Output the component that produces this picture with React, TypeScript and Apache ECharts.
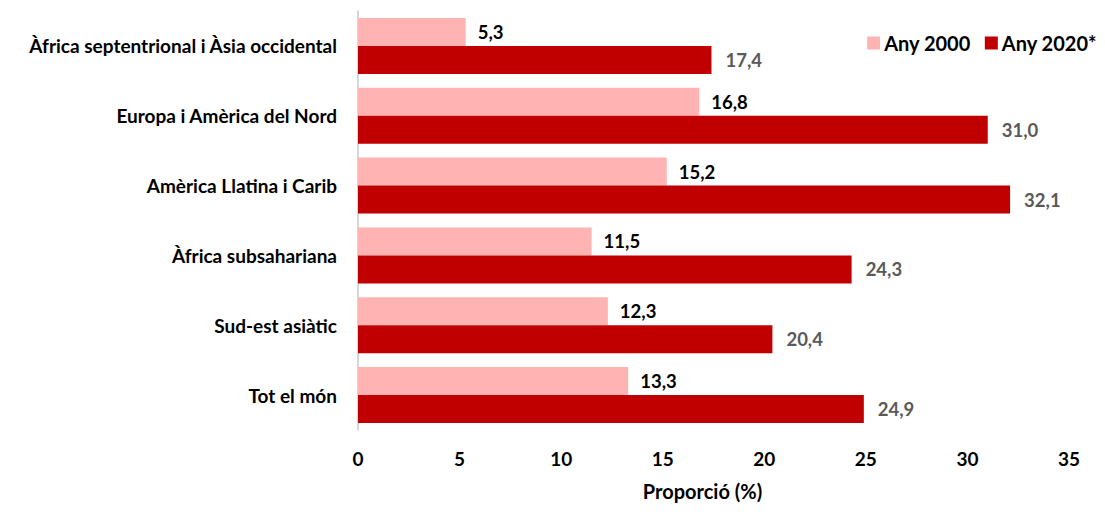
import React, { useEffect, useRef } from "react";
import * as echarts from "echarts";

const categories = [
  "Àfrica septentrional i Àsia occidental",
  "Europa i Amèrica del Nord",
  "Amèrica Llatina i Carib",
  "Àfrica subsahariana",
  "Sud-est asiàtic",
  "Tot el món",
];
const series2000 = [5.3, 16.8, 15.2, 11.5, 12.3, 13.3];
const series2020 = [17.4, 31.0, 32.1, 24.3, 20.4, 24.9];
const seriesNames = ["Any 2000", "Any 2020*"];
const axisTitle = "Proporció (%)";

const FONT = "Lato, 'Open Sans', sans-serif";
const fmt = (v: number) => v.toFixed(1).replace(".", ",");

export default function App() {
  const ref = useRef<HTMLDivElement>(null);
  useEffect(() => {
    if (!ref.current) return;
    const chart = echarts.init(ref.current, null, { renderer: "svg" });
    chart.setOption({
      animation: false,
      textStyle: { fontFamily: FONT },
      grid: { left: 350, right: 28, top: 3, bottom: 65, containLabel: false },
      legend: {
        top: 25,
        right: 0,
        padding: 0,
        itemWidth: 13,
        itemHeight: 13,
        itemGap: 14,
        icon: "rect",
        textStyle: { fontFamily: FONT, fontSize: 20, fontWeight: "bold", color: "#000", padding: [0, 0, 0, -1] },
        data: seriesNames,
      },
      xAxis: {
        type: "value",
        min: 0,
        max: 35,
        interval: 5,
        axisLine: { show: false },
        axisTick: { show: false },
        splitLine: { show: false },
        axisLabel: { fontFamily: FONT, fontSize: 19, fontWeight: "bold", color: "#000", margin: 19 },
        name: axisTitle,
        nameLocation: "middle",
        nameGap: 51,
        nameTextStyle: { fontFamily: FONT, fontSize: 20, fontWeight: "bold", color: "#000", padding: [0, 22, 0, 0] },
      },
      yAxis: {
        type: "category",
        inverse: true,
        data: categories,
        axisLine: { show: true, lineStyle: { color: "#c8c8c8", width: 1.5 } },
        axisTick: { show: false },
        axisLabel: { fontFamily: FONT, fontSize: 19, fontWeight: "bold", color: "#000", margin: 21 },
      },
      series: [
        {
          name: seriesNames[0],
          type: "bar",
          data: series2000,
          barWidth: 28,
          barGap: "0%",
          itemStyle: { color: "#FFB3B3" },
          label: {
            show: true,
            position: "right",
            distance: 12,
            formatter: (p: any) => fmt(p.value),
            fontFamily: FONT,
            fontSize: 18.5,
            fontWeight: "bold",
            color: "#000",
          },
        },
        {
          name: seriesNames[1],
          type: "bar",
          data: series2020,
          barWidth: 28,
          barGap: "0%",
          itemStyle: { color: "#C00000" },
          label: {
            show: true,
            position: "right",
            distance: 14,
            formatter: (p: any) => fmt(p.value),
            fontFamily: FONT,
            fontSize: 18.5,
            fontWeight: "bold",
            color: "#595959",
          },
        },
      ],
    });
    return () => chart.dispose();
  }, []);
  return <div ref={ref} style={{ width: 1089, height: 498 }} />;
}
